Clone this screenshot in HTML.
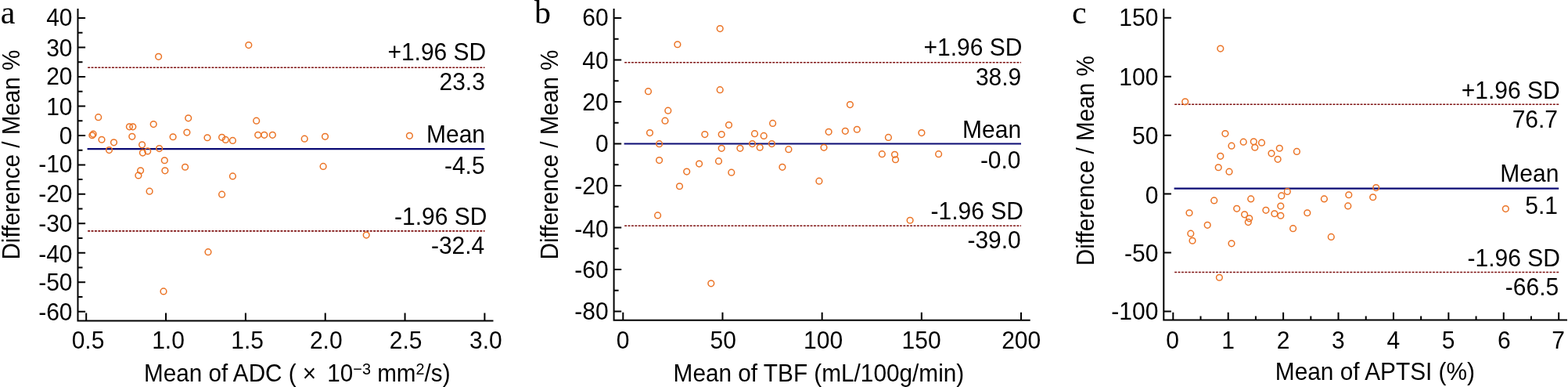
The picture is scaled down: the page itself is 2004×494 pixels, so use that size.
<!DOCTYPE html><html><head><meta charset="utf-8"><title>Bland-Altman plots</title><style>html,body{margin:0;padding:0;background:#fff;overflow:hidden}svg{display:block}</style></head><body>
<svg width="2004" height="494" viewBox="0 0 2004 494">
<rect width="2004" height="494" fill="#fff"/>
<g font-family='"Liberation Sans", Arial, sans-serif' font-size="30" fill="#000"><path d="M99.5 11V409.4H630.5" fill="none" stroke="#000" stroke-width="2"/><path d="M99.5 397.78H109.1M99.5 360.3H109.1M99.5 322.82H109.1M99.5 285.34H109.1M99.5 247.86H109.1M99.5 210.38H109.1M99.5 172.9H109.1M99.5 135.42H109.1M99.5 97.94H109.1M99.5 60.46H109.1M99.5 22.98H109.1M99.5 379.04H105.5M99.5 341.56H105.5M99.5 304.08H105.5M99.5 266.6H105.5M99.5 229.12H105.5M99.5 191.64H105.5M99.5 154.16H105.5M99.5 116.68H105.5M99.5 79.2H105.5M99.5 41.72H105.5M110.2 409.4V399.5M212.04 409.4V399.5M313.88 409.4V399.5M415.72 409.4V399.5M517.56 409.4V399.5M619.4 409.4V399.5" fill="none" stroke="#000" stroke-width="2"/><text transform="translate(92.5 408.82) scale(1 1.068)" text-anchor="end">-60</text><text transform="translate(92.5 370.62) scale(1 1.068)" text-anchor="end">-50</text><text transform="translate(92.5 334.97) scale(1 1.068)" text-anchor="end">-40</text><text transform="translate(92.5 296.27) scale(1 1.068)" text-anchor="end">-30</text><text transform="translate(92.5 258.42) scale(1 1.068)" text-anchor="end">-20</text><text transform="translate(92.5 220.02) scale(1 1.068)" text-anchor="end">-10</text><text transform="translate(92.5 183.77) scale(1 1.068)" text-anchor="end">0</text><text transform="translate(92.5 146.57) scale(1 1.068)" text-anchor="end">10</text><text transform="translate(92.5 108.42) scale(1 1.068)" text-anchor="end">20</text><text transform="translate(92.5 72.32) scale(1 1.068)" text-anchor="end">30</text><text transform="translate(92.5 33.22) scale(1 1.068)" text-anchor="end">40</text><text transform="translate(112.5 444.9) scale(1 1.068)" text-anchor="middle">0.5</text><text transform="translate(215.04 444.9) scale(1 1.068)" text-anchor="middle">1.0</text><text transform="translate(316.08 444.9) scale(1 1.068)" text-anchor="middle">1.5</text><text transform="translate(416.72 444.9) scale(1 1.068)" text-anchor="middle">2.0</text><text transform="translate(518.66 444.9) scale(1 1.068)" text-anchor="middle">2.5</text><text transform="translate(620.8 444.9) scale(1 1.068)" text-anchor="middle">3.0</text><path d="M112.2 86.3H619.5M112.2 294.9H619.5" stroke="#7d0c0c" stroke-width="1.6" stroke-dasharray="2.9 1.497" fill="none"/><path d="M111.6 190.1H619.5" stroke="#0b0b74" stroke-width="2.2" fill="none"/><text transform="translate(621.25 77.35) scale(1 1.068)" text-anchor="end">+1.96 SD</text><text transform="translate(619.85 115.39) scale(1 1.068)" text-anchor="end">23.3</text><text transform="translate(620 182.15) scale(1 1.04)" text-anchor="end">Mean</text><text transform="translate(619.6 221.54) scale(1 1.068)" text-anchor="end">-4.5</text><text transform="translate(622.3 286.95) scale(1 1.068)" text-anchor="end">-1.96 SD</text><text transform="translate(619.25 323.94) scale(1 1.068)" text-anchor="end">-32.4</text><g fill="none" stroke="#eb7426" stroke-width="1.5"><circle cx="125.7" cy="149.65" r="3.85"/><circle cx="119.2" cy="171.15" r="3.85"/><circle cx="117.8" cy="172.75" r="3.85"/><circle cx="130" cy="178.25" r="3.85"/><circle cx="139.5" cy="191.55" r="3.85"/><circle cx="145.5" cy="181.85" r="3.85"/><circle cx="165.4" cy="161.85" r="3.85"/><circle cx="169.8" cy="161.85" r="3.85"/><circle cx="168.8" cy="174.35" r="3.85"/><circle cx="181.6" cy="184.85" r="3.85"/><circle cx="182.4" cy="195.05" r="3.85"/><circle cx="188.7" cy="192.95" r="3.85"/><circle cx="196.2" cy="158.55" r="3.85"/><circle cx="203.6" cy="189.55" r="3.85"/><circle cx="210.3" cy="204.75" r="3.85"/><circle cx="221.1" cy="174.75" r="3.85"/><circle cx="240.7" cy="150.85" r="3.85"/><circle cx="238.9" cy="169.05" r="3.85"/><circle cx="236.6" cy="213.25" r="3.85"/><circle cx="210.9" cy="217.85" r="3.85"/><circle cx="179.6" cy="217.85" r="3.85"/><circle cx="176.9" cy="223.95" r="3.85"/><circle cx="191.1" cy="244.15" r="3.85"/><circle cx="265" cy="175.75" r="3.85"/><circle cx="283.6" cy="175.35" r="3.85"/><circle cx="288.3" cy="178.45" r="3.85"/><circle cx="297.4" cy="179.45" r="3.85"/><circle cx="297.4" cy="224.95" r="3.85"/><circle cx="327.7" cy="154.15" r="3.85"/><circle cx="329.7" cy="172.35" r="3.85"/><circle cx="337.8" cy="172.35" r="3.85"/><circle cx="348.3" cy="172.35" r="3.85"/><circle cx="389.2" cy="177.15" r="3.85"/><circle cx="415.5" cy="174.35" r="3.85"/><circle cx="413.1" cy="212.45" r="3.85"/><circle cx="523.4" cy="173.35" r="3.85"/><circle cx="283.6" cy="248.15" r="3.85"/><circle cx="266" cy="321.65" r="3.85"/><circle cx="209" cy="371.95" r="3.85"/><circle cx="468.2" cy="300.05" r="3.85"/><circle cx="202.6" cy="72.35" r="3.85"/><circle cx="317.8" cy="57.55" r="3.85"/></g><text x="0.7" y="29.5" font-family='"Liberation Serif", "Times New Roman", serif' font-size="42">a</text><text transform="translate(25.2 197.6) rotate(-90) scale(1.022 1.08)" text-anchor="middle" font-size="29">Difference / Mean %</text><text transform="translate(379.8 486.5) scale(0.9893 1.04)" text-anchor="middle">Mean of ADC ( × <tspan dx="6">10</tspan><tspan dy="-8.2" font-size="20">−3</tspan><tspan dy="8.2"> mm</tspan><tspan dy="-8.2" font-size="20">2</tspan><tspan dy="8.2">/s)</tspan></text></g>
<g font-family='"Liberation Sans", Arial, sans-serif' font-size="30" fill="#000"><path d="M784.6 11V408.7H1316.7" fill="none" stroke="#000" stroke-width="2"/><path d="M784.6 397.61H794.2M784.6 344.08H794.2M784.6 290.56H794.2M784.6 237.03H794.2M784.6 183.5H794.2M784.6 129.97H794.2M784.6 76.44H794.2M784.6 22.92H794.2M784.6 370.85H790.6M784.6 317.32H790.6M784.6 263.79H790.6M784.6 210.26H790.6M784.6 156.74H790.6M784.6 103.21H790.6M784.6 49.68H790.6M796.3 408.7V398.8M923.47 408.7V398.8M1050.65 408.7V398.8M1177.82 408.7V398.8M1305 408.7V398.8" fill="none" stroke="#000" stroke-width="2"/><text transform="translate(777.6 408.22) scale(1 1.068)" text-anchor="end">-80</text><text transform="translate(777.6 354.82) scale(1 1.068)" text-anchor="end">-60</text><text transform="translate(777.6 302.57) scale(1 1.068)" text-anchor="end">-40</text><text transform="translate(777.6 247.62) scale(1 1.068)" text-anchor="end">-20</text><text transform="translate(777.6 194.02) scale(1 1.068)" text-anchor="end">0</text><text transform="translate(777.6 140.62) scale(1 1.068)" text-anchor="end">20</text><text transform="translate(777.6 87.57) scale(1 1.068)" text-anchor="end">40</text><text transform="translate(777.6 33.37) scale(1 1.068)" text-anchor="end">60</text><text transform="translate(796.2 444.9) scale(1 1.068)" text-anchor="middle">0</text><text transform="translate(924.27 444.9) scale(1 1.068)" text-anchor="middle">50</text><text transform="translate(1052.05 444.9) scale(1 1.068)" text-anchor="middle">100</text><text transform="translate(1177.62 444.9) scale(1 1.068)" text-anchor="middle">150</text><text transform="translate(1305.2 444.9) scale(1 1.068)" text-anchor="middle">200</text><path d="M798.2 79.7H1305M798.2 288.2H1305" stroke="#7d0c0c" stroke-width="1.6" stroke-dasharray="2.9 1.497" fill="none"/><path d="M797.6 183.5H1305" stroke="#0b0b74" stroke-width="2.2" fill="none"/><text transform="translate(1306.35 71.1) scale(1 1.068)" text-anchor="end">+1.96 SD</text><text transform="translate(1305.25 109.14) scale(1 1.068)" text-anchor="end">38.9</text><text transform="translate(1305.1 175.65) scale(1 1.04)" text-anchor="end">Mean</text><text transform="translate(1304.55 214.69) scale(1 1.068)" text-anchor="end">-0.0</text><text transform="translate(1307.9 279.85) scale(1 1.068)" text-anchor="end">-1.96 SD</text><text transform="translate(1304.8 317.34) scale(1 1.068)" text-anchor="end">-39.0</text><g fill="none" stroke="#eb7426" stroke-width="1.5"><circle cx="920.2" cy="36.55" r="3.85"/><circle cx="865.9" cy="56.75" r="3.85"/><circle cx="828.5" cy="116.65" r="3.85"/><circle cx="920.2" cy="114.65" r="3.85"/><circle cx="853.8" cy="141.15" r="3.85"/><circle cx="850" cy="154.15" r="3.85"/><circle cx="830.5" cy="169.55" r="3.85"/><circle cx="842.6" cy="183.65" r="3.85"/><circle cx="842.6" cy="204.55" r="3.85"/><circle cx="900.8" cy="171.55" r="3.85"/><circle cx="922.2" cy="171.55" r="3.85"/><circle cx="931.5" cy="159.55" r="3.85"/><circle cx="922.2" cy="189.35" r="3.85"/><circle cx="893.6" cy="209.05" r="3.85"/><circle cx="918.5" cy="205.65" r="3.85"/><circle cx="945.9" cy="189.35" r="3.85"/><circle cx="964.5" cy="170.65" r="3.85"/><circle cx="976.2" cy="173.45" r="3.85"/><circle cx="961.5" cy="183.55" r="3.85"/><circle cx="971.2" cy="188.25" r="3.85"/><circle cx="987.6" cy="157.45" r="3.85"/><circle cx="986.4" cy="183.55" r="3.85"/><circle cx="1007.9" cy="190.65" r="3.85"/><circle cx="999.9" cy="213.35" r="3.85"/><circle cx="877.7" cy="219.05" r="3.85"/><circle cx="934.8" cy="220.15" r="3.85"/><circle cx="868.5" cy="237.75" r="3.85"/><circle cx="840.6" cy="274.95" r="3.85"/><circle cx="908.8" cy="361.85" r="3.85"/><circle cx="1086.4" cy="133.55" r="3.85"/><circle cx="1059.1" cy="168.35" r="3.85"/><circle cx="1080.3" cy="167.35" r="3.85"/><circle cx="1095.3" cy="165.25" r="3.85"/><circle cx="1135.4" cy="175.45" r="3.85"/><circle cx="1177.9" cy="169.55" r="3.85"/><circle cx="1053" cy="188.35" r="3.85"/><circle cx="1127.3" cy="196.65" r="3.85"/><circle cx="1143.5" cy="197.25" r="3.85"/><circle cx="1144.5" cy="203.75" r="3.85"/><circle cx="1199.6" cy="196.65" r="3.85"/><circle cx="1046.9" cy="231.15" r="3.85"/><circle cx="1163.1" cy="281.25" r="3.85"/></g><text x="683" y="29.5" font-family='"Liberation Serif", "Times New Roman", serif' font-size="42">b</text><text transform="translate(712.9 197.5) rotate(-90) scale(1.022 1.08)" text-anchor="middle" font-size="29">Difference / Mean %</text><text transform="translate(1046.4 486.5) scale(0.9925 1.04)" text-anchor="middle">Mean of TBF (mL/100g/min)</text></g>
<g font-family='"Liberation Sans", Arial, sans-serif' font-size="30" fill="#000"><path d="M1487.3 11V408.6H2003" fill="none" stroke="#000" stroke-width="2"/><path d="M1487.3 397.48H1496.9M1487.3 322.54H1496.9M1487.3 247.6H1496.9M1487.3 172.66H1496.9M1487.3 97.72H1496.9M1487.3 22.78H1496.9M1499.3 408.6V398.7M1569.71 408.6V398.7M1640.12 408.6V398.7M1710.53 408.6V398.7M1780.94 408.6V398.7M1851.35 408.6V398.7M1921.76 408.6V398.7M1992.17 408.6V398.7M1534.5 408.6V403.6M1604.91 408.6V403.6M1675.32 408.6V403.6M1745.73 408.6V403.6M1816.14 408.6V403.6M1886.55 408.6V403.6M1956.96 408.6V403.6" fill="none" stroke="#000" stroke-width="2"/><text transform="translate(1480.3 408.07) scale(1 1.068)" text-anchor="end">-100</text><text transform="translate(1480.3 333.82) scale(1 1.068)" text-anchor="end">-50</text><text transform="translate(1480.3 259.77) scale(1 1.068)" text-anchor="end">0</text><text transform="translate(1480.3 183.82) scale(1 1.068)" text-anchor="end">50</text><text transform="translate(1480.3 108.97) scale(1 1.068)" text-anchor="end">100</text><text transform="translate(1480.3 33.17) scale(1 1.068)" text-anchor="end">150</text><text transform="translate(1498.7 444.9) scale(1 1.068)" text-anchor="middle">0</text><text transform="translate(1569.61 444.9) scale(1 1.068)" text-anchor="middle">1</text><text transform="translate(1640.12 444.9) scale(1 1.068)" text-anchor="middle">2</text><text transform="translate(1710.43 444.9) scale(1 1.068)" text-anchor="middle">3</text><text transform="translate(1780.94 444.9) scale(1 1.068)" text-anchor="middle">4</text><text transform="translate(1851.05 444.9) scale(1 1.068)" text-anchor="middle">5</text><text transform="translate(1922.46 444.9) scale(1 1.068)" text-anchor="middle">6</text><text transform="translate(1991.67 444.9) scale(1 1.068)" text-anchor="middle">7</text><path d="M1501.2 133.3H1992.2M1501.2 347.5H1992.2" stroke="#7d0c0c" stroke-width="1.6" stroke-dasharray="2.9 1.497" fill="none"/><path d="M1500.6 240.6H1992.2" stroke="#0b0b74" stroke-width="2.2" fill="none"/><text transform="translate(1993.65 125.55) scale(1 1.068)" text-anchor="end">+1.96 SD</text><text transform="translate(1991.05 162.84) scale(1 1.068)" text-anchor="end">76.7</text><text transform="translate(1992.35 231.6) scale(1 1.04)" text-anchor="end">Mean</text><text transform="translate(1991 272.84) scale(1 1.068)" text-anchor="end">5.1</text><text transform="translate(1993.9 339.65) scale(1 1.068)" text-anchor="end">-1.96 SD</text><text transform="translate(1992.2 376.94) scale(1 1.068)" text-anchor="end">-66.5</text><g fill="none" stroke="#eb7426" stroke-width="1.5"><circle cx="1559.8" cy="62.05" r="3.85"/><circle cx="1514.7" cy="129.85" r="3.85"/><circle cx="1565.9" cy="170.55" r="3.85"/><circle cx="1574" cy="186.15" r="3.85"/><circle cx="1559.8" cy="199.35" r="3.85"/><circle cx="1557.2" cy="213.75" r="3.85"/><circle cx="1571" cy="219.15" r="3.85"/><circle cx="1589.2" cy="181.15" r="3.85"/><circle cx="1602.3" cy="180.75" r="3.85"/><circle cx="1603.8" cy="188.25" r="3.85"/><circle cx="1612.5" cy="182.15" r="3.85"/><circle cx="1635.3" cy="189.25" r="3.85"/><circle cx="1625" cy="195.85" r="3.85"/><circle cx="1633.1" cy="203.35" r="3.85"/><circle cx="1657.4" cy="193.45" r="3.85"/><circle cx="1645.3" cy="244.45" r="3.85"/><circle cx="1637.8" cy="249.95" r="3.85"/><circle cx="1551.7" cy="255.95" r="3.85"/><circle cx="1598.7" cy="253.95" r="3.85"/><circle cx="1692.4" cy="253.95" r="3.85"/><circle cx="1723.8" cy="248.75" r="3.85"/><circle cx="1722.8" cy="262.95" r="3.85"/><circle cx="1520" cy="271.75" r="3.85"/><circle cx="1580.7" cy="266.35" r="3.85"/><circle cx="1590.6" cy="273.85" r="3.85"/><circle cx="1596.7" cy="278.85" r="3.85"/><circle cx="1595.3" cy="283.55" r="3.85"/><circle cx="1617.9" cy="268.35" r="3.85"/><circle cx="1628.9" cy="272.75" r="3.85"/><circle cx="1636.8" cy="263.05" r="3.85"/><circle cx="1636.8" cy="275.25" r="3.85"/><circle cx="1670.8" cy="271.75" r="3.85"/><circle cx="1543.2" cy="287.35" r="3.85"/><circle cx="1521.8" cy="298.15" r="3.85"/><circle cx="1524" cy="307.25" r="3.85"/><circle cx="1574" cy="310.85" r="3.85"/><circle cx="1652.6" cy="291.65" r="3.85"/><circle cx="1701.3" cy="302.45" r="3.85"/><circle cx="1558.4" cy="354.25" r="3.85"/><circle cx="1758.7" cy="239.55" r="3.85"/><circle cx="1754.7" cy="251.75" r="3.85"/><circle cx="1924.3" cy="266.55" r="3.85"/></g><text x="1370" y="29.5" font-family='"Liberation Serif", "Times New Roman", serif' font-size="42">c</text><text transform="translate(1398.1 205.2) rotate(-90) scale(1.022 1.08)" text-anchor="middle" font-size="29">Difference / Mean %</text><text transform="translate(1757.4 485.35) scale(0.9941 1.04)" text-anchor="middle">Mean of APTSI (%)</text></g>
</svg></body></html>
